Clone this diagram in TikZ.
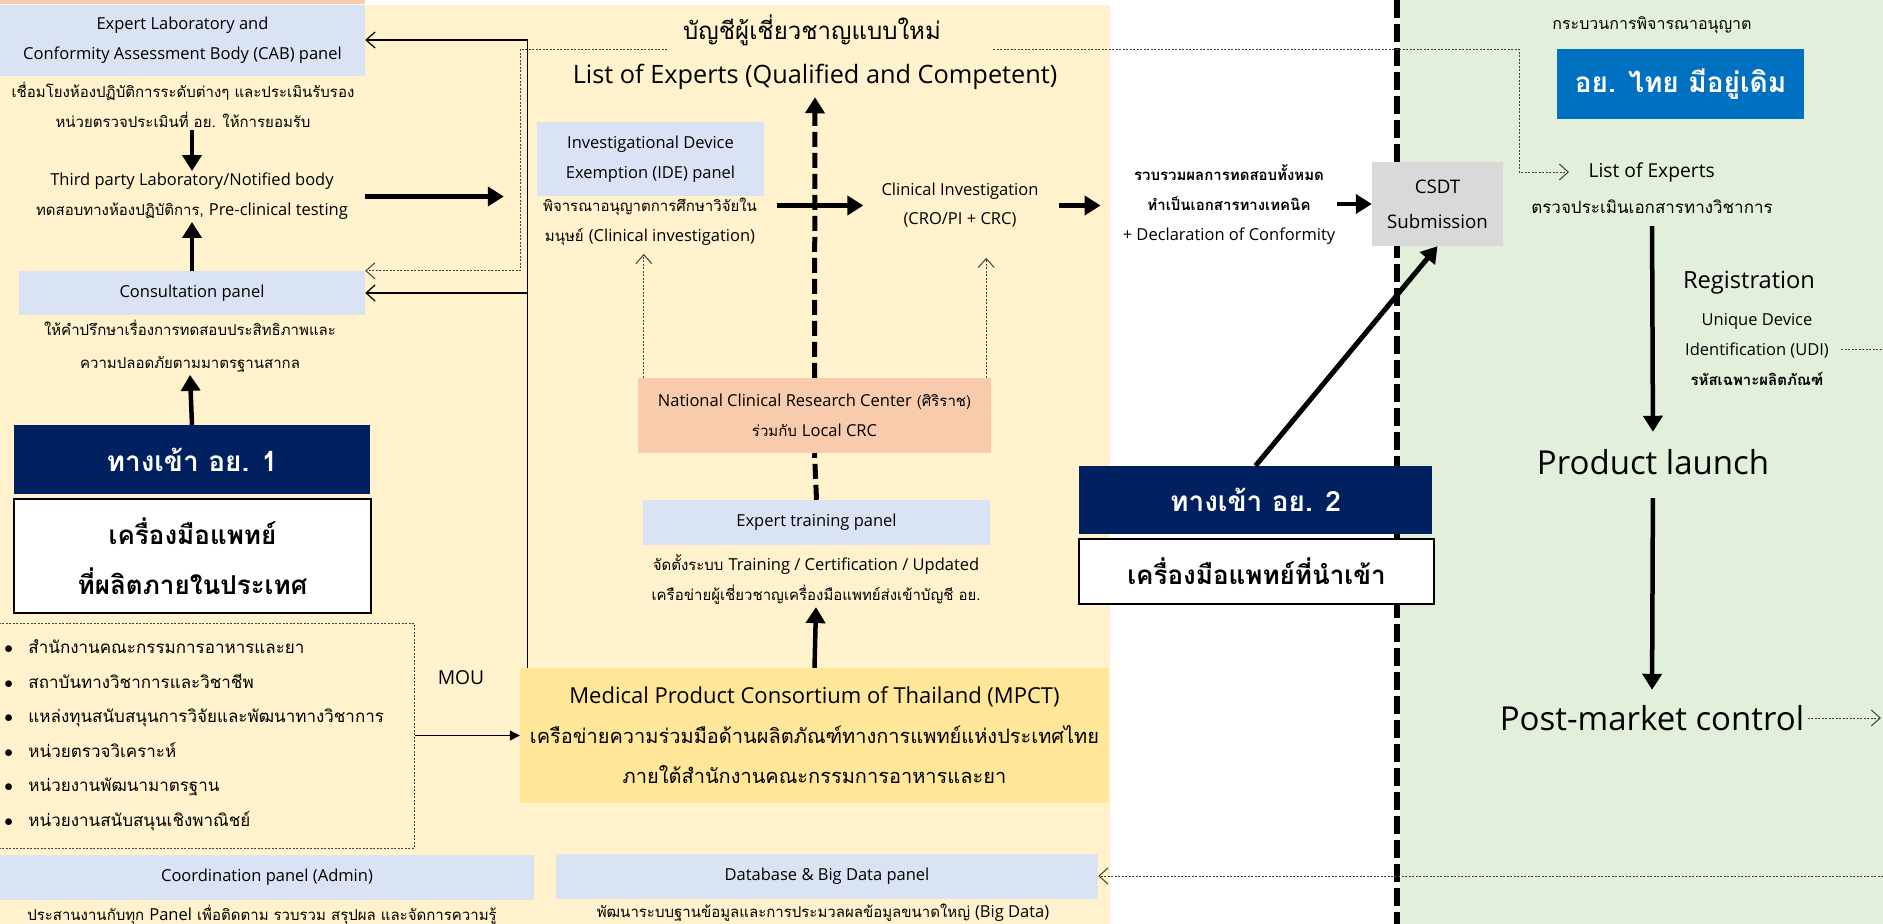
\documentclass[tikz,border=0pt]{standalone}
\usepackage{fontspec}
\setmainfont{Loma}[Script=Thai]
\newfontfamily\latin{Open Sans}[Scale=1.1]
\usepackage{tikz}
\usetikzlibrary{arrows.meta}

\definecolor{bgbeige}{HTML}{FFF2CC}
\definecolor{bggreen}{HTML}{E2EFDA}
\definecolor{panelblue}{HTML}{DAE3F3}
\definecolor{navyblue}{HTML}{002060}
\definecolor{fdablue}{HTML}{0070C0}
\definecolor{ncrcpink}{HTML}{F8CBAD}
\definecolor{mpctyellow}{HTML}{FFE699}
\definecolor{csdtgray}{HTML}{D9D9D9}
\definecolor{dotgray}{HTML}{404040}

\newcommand{\fsz}[2]{\fontsize{#1}{#2}\selectfont}

\begin{document}
\begin{tikzpicture}[x=1pt, y=-1pt,
    fat/.style={line width=4.5pt, -{Triangle[length=16pt,width=19pt]}},
    bigdash/.style={line width=5pt, dash pattern=on 15pt off 6pt},
    thinline/.style={line width=1.2pt},
    dotline/.style={line width=1pt, dotgray, dash pattern=on 2pt off 1.5pt},
    barb/.style={-{Straight Barb[length=9pt,width=16pt]}}]

    \useasboundingbox (0,0) rectangle (1883,924);

    % background zones
    \fill[bgbeige] (0,5) rectangle (1110,924);
    \fill[ncrcpink] (0,0) rectangle (365,4);
    \fill[bggreen] (1400,0) rectangle (1883,924);
    \draw[line width=6pt, dash pattern=on 18pt off 6pt] (1397,0) -- (1397,924);

    \coordinate (dlA) at (667,49);
    \coordinate (dlB) at (993,49);
    \coordinate (dlC) at (520,49);
    \coordinate (dlD) at (1519,49);
    \coordinate (edgeR) at (1883,0);

    \begin{scope}[every node/.style={fill=panelblue, inner sep=0pt, align=center, font=\latin\fsz{15}{30}}]
        \node[minimum width=365pt, minimum height=71pt] (cab) at (182.5,40) {Expert Laboratory and\\Conformity Assessment Body (CAB) panel};
        \node[minimum width=346pt, minimum height=44pt] (cons) at (192,293) {Consultation panel};
        \node[minimum width=227pt, minimum height=74pt] (ide) at (650.5,159) {Investigational Device\\Exemption (IDE) panel};
        \node[minimum width=347pt, minimum height=45pt] (train) at (816.5,522.5) {Expert training panel};
        \node[minimum width=534pt, minimum height=45pt] (coord) at (267,877) {Coordination panel (Admin)};
        \node[minimum width=542pt, minimum height=45pt] (db) at (827,876) {Database \& Big Data panel};
    \end{scope}

    \begin{scope}[every node/.style={inner sep=2pt, align=center, font=\fsz{15}{30}}]
        \node (cabtxt) at (183,105) {เชื่อมโยงห้องปฏิบัติการระดับต่างๆ และประเมินรับรอง\\หน่วยตรวจประเมินที่ อย. ให้การยอมรับ};
        \node (tp) at (192,196.5) {{\latin Third party Laboratory/Notified body}\\ทดสอบทางห้องปฏิบัติการ, {\latin Pre-clinical testing}};
        \node[font=\fsz{15}{33}] (constxt) at (190,346.5) {ให้คำปรึกษาเรื่องการทดสอบประสิทธิภาพและ\\ความปลอดภัยตามมาตรฐานสากล};
        \node (idetxt) at (650,222) {พิจารณาอนุญาตการศึกษาวิจัยใน\\มนุษย์ {\latin (Clinical investigation)}};
        \node[font=\latin\fsz{15}{29}] (clin) at (960,205.5) {Clinical Investigation\\(CRO/PI + CRC)};
        \node (traintxt) at (816,580) {จัดตั้งระบบ {\latin Training / Certification / Updated}\\เครือข่ายผู้เชี่ยวชาญเครื่องมือแพทย์ส่งเข้าบัญชี อย.};
        \node (coordtxt) at (262,915) {ประสานงานกับทุก {\latin Panel} เพื่อติดตาม รวบรวม สรุปผล และจัดการความรู้};
        \node (dbtxt) at (823,913) {พัฒนาระบบฐานข้อมูลและการประมวลผลข้อมูลขนาดใหญ่ {\latin (Big Data)}};
        \node (techdoc) at (1229,205) {\textbf{รวบรวมผลการทดสอบทั้งหมด}\\\textbf{ทำเป็นเอกสารทางเทคนิค}\\{\latin + Declaration of Conformity}};
        \node[font=\fsz{16}{30}] (permit) at (1652,25) {กระบวนการพิจารณาอนุญาต};
        \node[font=\fsz{17}{30}] (review) at (1652,207) {ตรวจประเมินเอกสารทางวิชาการ};
        \node (udi) at (1757,349) {{\latin Unique Device}\\{\latin Identification (UDI)}\\\textbf{รหัสเฉพาะผลิตภัณฑ์}};
        \node[font=\latin\fsz{17.5}{20}] (mou) at (461,678) {MOU};
    \end{scope}

    \begin{scope}[every node/.style={fill=navyblue, text=white, inner sep=0pt, font=\bfseries\fsz{28}{34}}]
        \node[minimum width=356pt, minimum height=69pt] (gate1) at (192,459.5) {ทางเข้า อย. 1};
        \node[minimum width=353pt, minimum height=68pt] (gate2) at (1255.5,500) {ทางเข้า อย. 2};
    \end{scope}

    \begin{scope}[every node/.style={fill=white, draw=black, line width=1.5pt, inner sep=0pt, align=center, font=\bfseries\fsz{26}{50}}]
        \node[minimum width=357pt, minimum height=114pt] (local) at (192.5,556) {เครื่องมือแพทย์\\ที่ผลิตภายในประเทศ};
        \node[minimum width=355pt, minimum height=65pt] (import) at (1256.5,571.5) {เครื่องมือแพทย์ที่นำเข้า};
    \end{scope}

    \node[fill=ncrcpink, minimum width=353pt, minimum height=75pt, inner sep=0pt, align=center, font=\fsz{15}{30}] (ncrc) at (814.5,415.5) {{\latin National Clinical Research Center} (ศิริราช)\\ร่วมกับ {\latin Local CRC}};
    \node[fill=mpctyellow, minimum width=589pt, minimum height=135pt, inner sep=0pt, align=center, font=\fsz{20}{40}] (mpct) at (814.5,735.5) {{\latin Medical Product Consortium of Thailand (MPCT)}\\เครือข่ายความร่วมมือด้านผลิตภัณฑ์ทางการแพทย์แห่งประเทศไทย\\ภายใต้สำนักงานคณะกรรมการอาหารและยา};
    \node[fill=csdtgray, minimum width=131pt, minimum height=84pt, inner sep=0pt, align=center, font=\latin\fsz{17}{35}] (csdt) at (1437.5,204) {CSDT\\Submission};
    \node[fill=fdablue, text=white, minimum width=247pt, minimum height=70pt, inner sep=0pt, font=\bfseries\fsz{28}{36}] (fda) at (1680.5,84) {อย. ไทย มีอยู่เดิม};

    \node[font=\fsz{24}{28}] (title) at (812,30) {บัญชีผู้เชี่ยวชาญแบบใหม่};
    \node[font=\latin\fsz{23}{28}] (loe) at (815,77) {List of Experts (Qualified and Competent)};
    \node[anchor=west, font=\latin\fsz{17.5}{20}] (loe2) at (1585,172) {List of Experts};
    \node[font=\latin\fsz{21.5}{26}] (reg) at (1749,283) {Registration};
    \node[font=\latin\fsz{30}{36}] (launch) at (1653,462) {Product launch};
    \node[font=\latin\fsz{30}{36}] (postmkt) at (1652,718) {Post-market control};

    \node[draw=dotgray, line width=1pt, dash pattern=on 2pt off 1.5pt, minimum width=419pt, minimum height=225pt, text width=400pt, align=left, font=\fsz{17}{34.5}] (orgs) at (204.5,735.5) {%
        \makebox[24pt][l]{$\bullet$}สำนักงานคณะกรรมการอาหารและยา\\
        \makebox[24pt][l]{$\bullet$}สถาบันทางวิชาการและวิชาชีพ\\
        \makebox[24pt][l]{$\bullet$}แหล่งทุนสนับสนุนการวิจัยและพัฒนาทางวิชาการ\\
        \makebox[24pt][l]{$\bullet$}หน่วยตรวจวิเคราะห์\\
        \makebox[24pt][l]{$\bullet$}หน่วยงานพัฒนามาตรฐาน\\
        \makebox[24pt][l]{$\bullet$}หน่วยงานสนับสนุนเชิงพาณิชย์};

    % thick flow arrows
    \draw[fat] (tp |- cabtxt.south) -- (tp.north);
    \draw[fat] (cons.north) -- (tp.south);
    \draw[fat] (gate1.north) -- (constxt.south);
    \draw[fat, line width=5pt] (cab.east |- tp) -- ([xshift=-33pt]ide.west |- tp);
    \draw[fat] ([xshift=18pt]idetxt.east |- clin) -- ([xshift=-16pt]clin.west);
    \draw[fat] ([xshift=18pt]clin.east) -- ([xshift=-20pt]techdoc.west |- clin);
    \draw[fat] (techdoc.east |- csdt) -- (csdt.west);
    \draw[fat, line width=5pt] (gate2.north) -- (csdt.south);
    \draw[fat] (mpct.north) -- (traintxt.south);
    \draw[fat, shorten <=10pt, shorten >=14pt] (review.south) -- (launch.north);
    \draw[fat, shorten <=20pt, shorten >=12pt] (launch.south) -- (postmkt.north);
    \draw[bigdash, -{Triangle[length=16pt,width=19pt]}] (ncrc.north) -- ([yshift=-4pt]loe.south);
    \draw[bigdash] (train.north) -- (ncrc.south);

    % thin links
    \draw[thinline, barb] ([xshift=8pt]mpct.north west) |- (cab.east);
    \draw[thinline, barb] ([xshift=8pt]mpct.north west |- cons.east) -- (cons.east);
    \draw[thinline, -{Triangle[length=10pt,width=10pt]}] (orgs.east |- mpct.west) -- (mpct.west);
    \draw[dotline, barb, shorten >=6pt] ([xshift=6pt]ncrc.north west) -- ([xshift=6pt]ncrc.north west |- idetxt.south);
    \draw[dotline, barb, shorten >=28pt] ([xshift=-5pt]ncrc.north east) -- ([xshift=-5pt]ncrc.north east |- clin.south);
    \draw[dotline, barb] (dlA) -- (dlC) |- (cons.north east);
    \draw[dotline, barb] (dlB) -- (dlD) |- ([xshift=-16pt]loe2.west);
    \draw[dotline] ([xshift=10pt]udi.east) -- (udi.east -| edgeR);
    \draw[dotline, barb] (postmkt.east) -- ([xshift=-2pt]postmkt.east -| edgeR);
    \draw[dotline, barb] (db.east -| edgeR) -- (db.east);
\end{tikzpicture}
\end{document}
